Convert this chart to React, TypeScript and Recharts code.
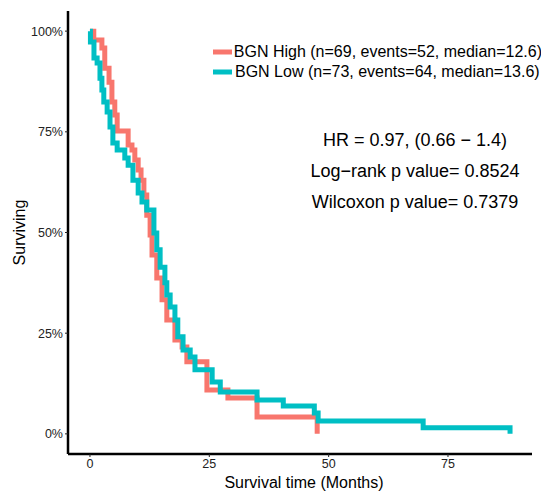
import React from "react";
import { LineChart, Line, XAxis, YAxis, Legend } from "recharts";

// Kaplan-Meier estimates (months, survival fraction)
const highTime = [0, 0.8, 2.5, 3.1, 4.0, 4.6, 5.2, 5.7, 8.0, 8.8, 9.4, 10.1, 10.7, 11.3, 11.9, 12.6, 13.0, 14.0, 15.1, 16.1, 17.8, 19.3, 20.3, 24.5, 28.9, 35.0, 47.6];
const highSurv = [1.0, 0.978, 0.958, 0.908, 0.873, 0.824, 0.792, 0.752, 0.717, 0.705, 0.68, 0.655, 0.63, 0.593, 0.543, 0.494, 0.444, 0.387, 0.333, 0.283, 0.233, 0.216, 0.179, 0.109, 0.089, 0.042, 0.0];

const lowTime = [0, 0.1, 0.84, 1.5, 2.1, 2.5, 2.9, 3.6, 4.2, 4.8, 5.7, 7.3, 8.0, 9.0, 10.1, 10.9, 11.9, 13.4, 14.0, 14.7, 15.7, 16.1, 16.8, 17.8, 18.4, 19.5, 21.0, 22.0, 25.6, 27.3, 35.0, 40.5, 47.0, 47.8, 69.8, 88.0];
const lowSurv = [1.0, 0.973, 0.933, 0.921, 0.883, 0.854, 0.824, 0.799, 0.762, 0.722, 0.705, 0.685, 0.667, 0.63, 0.598, 0.576, 0.556, 0.499, 0.457, 0.414, 0.375, 0.345, 0.315, 0.283, 0.241, 0.208, 0.191, 0.159, 0.129, 0.104, 0.084, 0.069, 0.052, 0.032, 0.015, 0.0];

const seriesNames = ["BGN High (n=69, events=52, median=12.6)", "BGN Low (n=73, events=64, median=13.6)"];
const seriesColors = ["#F8766D", "#00BFC4"];
const xTicks = [0, 25, 50, 75];
const yTicks = [0, 0.25, 0.5, 0.75, 1];
const statLines = ["HR = 0.97, (0.66 \u2212 1.4)", "Log\u2212rank p value= 0.8524", "Wilcoxon p value= 0.7379"];

const highData = highTime.map((t, i) => ({ t, s: highSurv[i] }));
const lowData = lowTime.map((t, i) => ({ t, s: lowSurv[i] }));

const FONT = '"Liberation Sans", Arial, Helvetica, sans-serif';

function KeyLegend() {
  return (
    <div style={{ fontFamily: FONT, fontSize: 16, color: "#000" }}>
      {seriesNames.map((name, i) => (
        <div key={name} style={{ display: "flex", alignItems: "center", height: 20, whiteSpace: "nowrap" }}>
          <svg width={23} height={20}>
            <line x1={1} x2={20} y1={10} y2={10} stroke={seriesColors[i]} strokeWidth={5} />
          </svg>
          <span>{name}</span>
        </div>
      ))}
    </div>
  );
}

export default function App() {
  return (
    <div style={{ position: "absolute", left: 0, top: 0, width: 541, height: 495, background: "#fff" }}>
      <LineChart width={541} height={495} margin={{ top: 11, right: 9, bottom: 0, left: 0 }}>
        <XAxis
          dataKey="t"
          type="number"
          domain={[-4.6, 92.6]}
          allowDataOverflow
          ticks={xTicks}
          height={41}
          tickSize={3}
          tickMargin={2}
          axisLine={{ stroke: "#000", strokeWidth: 2.5 }}
          tickLine={{ stroke: "#222" }}
          tick={{ fill: "#222", fontSize: 12.5, fontFamily: FONT }}
          label={{ value: "Survival time (Months)", position: "insideBottom", offset: 7, dx: 4, style: { fontSize: 16, fill: "#000", fontFamily: FONT } }}
        />
        <YAxis
          type="number"
          domain={[-0.05, 1.05]}
          allowDataOverflow
          ticks={yTicks}
          width={68}
          tickSize={3}
          tickMargin={2}
          tickFormatter={(v: number) => `${Math.round(v * 100)}%`}
          axisLine={{ stroke: "#000", strokeWidth: 2.5 }}
          tickLine={{ stroke: "#222" }}
          tick={{ fill: "#222", fontSize: 12.5, fontFamily: FONT }}
          label={{
            content: (props: any) => {
              const vb = props.viewBox || { x: 0, y: 11, width: 68, height: 443 };
              const cx = vb.x + 19;
              const cy = vb.y + vb.height / 2;
              return (
                <text
                  x={cx}
                  y={cy}
                  transform={`rotate(-90, ${cx}, ${cy})`}
                  textAnchor="middle"
                  dominantBaseline="central"
                  fontSize={16}
                  fontFamily={FONT}
                  fill="#000"
                >
                  Surviving
                </text>
              );
            },
          }}
        />
        <Legend
          layout="vertical"
          align="center"
          verticalAlign="middle"
          wrapperStyle={{ left: 212, top: 42, width: 330 }}
          content={() => <KeyLegend />}
        />
        <Line
          data={highData}
          dataKey="s"
          name={seriesNames[0]}
          type="stepAfter"
          stroke={seriesColors[0]}
          strokeWidth={5}
          dot={false}
          isAnimationActive={false}
        />
        <Line
          data={lowData}
          dataKey="s"
          name={seriesNames[1]}
          type="stepAfter"
          stroke={seriesColors[1]}
          strokeWidth={5}
          dot={false}
          isAnimationActive={false}
        />
      </LineChart>
      <div
        style={{
          position: "absolute",
          left: 265,
          top: 124.5,
          width: 300,
          textAlign: "center",
          fontFamily: FONT,
          fontSize: 18,
          color: "#000",
        }}
      >
        {statLines.map((s) => (
          <div key={s} style={{ height: 31, lineHeight: "31px", whiteSpace: "nowrap" }}>
            {s}
          </div>
        ))}
      </div>
    </div>
  );
}
